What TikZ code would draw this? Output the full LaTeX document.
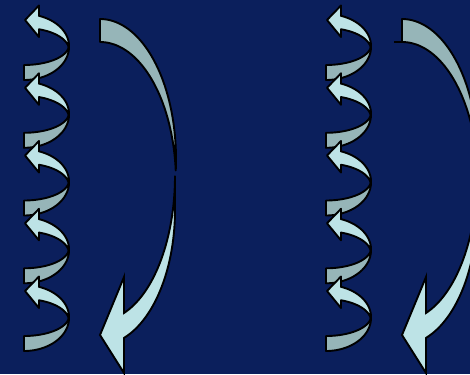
\documentclass[tikz,border=0pt]{standalone}
\definecolor{bg}{RGB}{11,31,92}
\definecolor{lightc}{RGB}{189,227,230}
\definecolor{darkc}{RGB}{150,181,184}
\tikzset{band/.style={draw=black, line width=1.9pt, line join=round}}
\newcommand\curlunit[2]{%
\begin{scope}[shift={(#1,#2)}]
\filldraw[band, fill=darkc] (24,80) -- plot[domain=90:0, samples=30, smooth] ({24+45*cos(\x)},{47+33*sin(\x)}) -- (69,45) -- plot[domain=0:90, samples=30, smooth] ({24+45*cos(\x)},{45+20*sin(\x)}) -- cycle;
\filldraw[band, fill=lightc] (39,15.8) -- plot[domain=-70.5:0, samples=30, smooth] ({24+45*cos(\x)},{46+32*sin(\x)}) -- (69,48) -- plot[domain=-5:-70.5, samples=30, smooth] ({24+45*cos(\x)},{50+22*sin(\x)}) -- (39,37) -- (25,20) -- (39,5.5) -- cycle;
\end{scope}}
\newcommand\bigcurl[1]{%
\begin{scope}[shift={(#1,0)}]
\filldraw[band, fill=darkc] (100,19) -- plot[domain=-90:4.7, samples=40, smooth] ({100+76*cos(\x)},{159+140*sin(\x)}) -- plot[domain=-4.7:-90, samples=40, smooth] ({100+76*cos(\x)},{182+140*sin(\x)}) -- cycle;
\filldraw[band, fill=lightc, line join=miter] (175,175.6) -- plot[domain=0:71.3, samples=40, smooth] ({100+75*cos(\x)},{175.6+145*sin(\x)}) -- (124,277) -- (100,335) -- (124,373) -- (124,337.9) -- plot[domain=71.3:0, samples=40, smooth] ({100+75*cos(\x)},{210+135*sin(\x)}) -- cycle;
\end{scope}}
\begin{document}
\begin{tikzpicture}[x=1pt,y=-1pt]
\fill[bg] (0,0) rectangle (470,374);
\useasboundingbox (0,0) rectangle (470,374);
\clip (0,0) rectangle (470,374);
\foreach \ox in {0,302}{
  \foreach \oy in {0,67.8,135.5,203.3,271}{
    \curlunit{\ox}{\oy}
  }
  \bigcurl{\ox}
}
\draw[line width=1.9pt] (394,42) -- (402,42);
\end{tikzpicture}
\end{document}
